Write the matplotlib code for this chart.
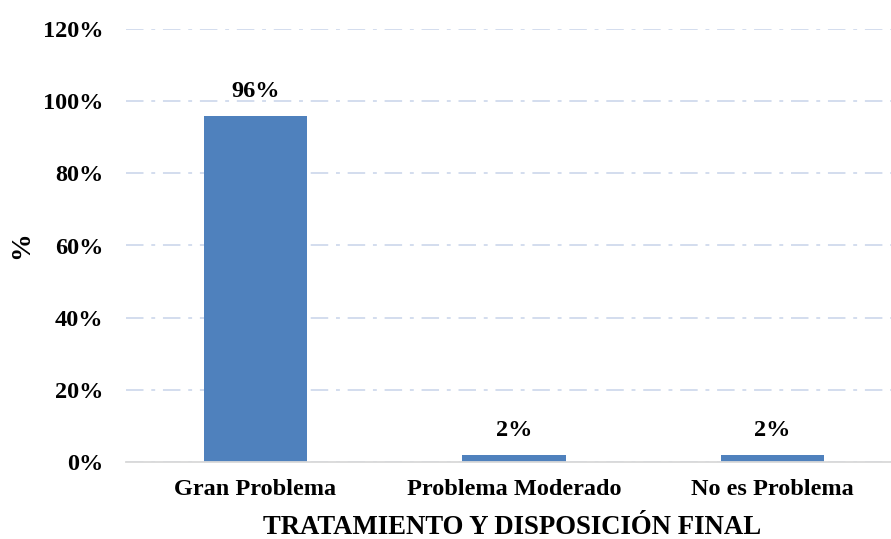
import matplotlib
matplotlib.use("Agg")
import matplotlib.pyplot as plt
from matplotlib.ticker import FuncFormatter

categories = ["Gran Problema", "Problema Moderado", "No es Problema"]
values = [0.96, 0.02, 0.02]
y_ticks = [0.0, 0.2, 0.4, 0.6, 0.8, 1.0, 1.2]

plt.rcParams["font.family"] = ["Liberation Serif", "DejaVu Serif"]
plt.rcParams["font.weight"] = "bold"

fig = plt.figure(figsize=(8.91, 5.39), dpi=100)
ax = fig.add_axes([126 / 891, (539 - 462) / 539, 1 - 126 / 891, (462 - 29) / 539])

x = list(range(len(categories)))
bars = ax.bar(x, values, width=0.4, color="#4F81BD", zorder=3)

for xi, v in zip(x, values):
    ax.annotate(f"{v * 100:.0f}%", (xi, v), xytext=(0, 10), textcoords="offset points",
                ha="center", va="bottom", fontsize=17.5, fontweight="bold")

ax.set_xlim(-0.5, 2.458)
ax.set_ylim(0, 1.2)
ax.set_yticks(y_ticks)
ax.yaxis.set_major_formatter(FuncFormatter(lambda v, _: f"{v * 100:.0f}%"))
ax.set_xticks(x)
ax.set_xticklabels(categories)

ax.grid(axis="y", color="#D3DDEE", linewidth=1.4, linestyle=(0, (9, 4, 2, 4)), zorder=0)
ax.set_axisbelow(True)
for side in ("top", "right", "left"):
    ax.spines[side].set_visible(False)
ax.spines["bottom"].set_color("#D9D9D9")
ax.spines["bottom"].set_linewidth(1.3)
ax.spines["bottom"].set_zorder(4)

ax.tick_params(axis="both", length=0, labelsize=17.5)
ax.tick_params(axis="y", pad=16.5)
ax.tick_params(axis="x", pad=12)
for lbl in ax.get_xticklabels() + ax.get_yticklabels():
    lbl.set_fontweight("bold")

ax.set_xlabel("TRATAMIENTO Y DISPOSICIÓN FINAL", fontsize=19.3, fontweight="bold")
fig.text(22 / 891, 1 - 245 / 539, "%", rotation=90, fontsize=20, fontweight="bold",
         ha="center", va="center")
ax.xaxis.set_label_coords((512 - 126) / (891 - 126), -(527 - 462) / (462 - 29), transform=ax.transAxes)
ax.xaxis.label.set_va("center")

fig.savefig("out.png", dpi=100)
